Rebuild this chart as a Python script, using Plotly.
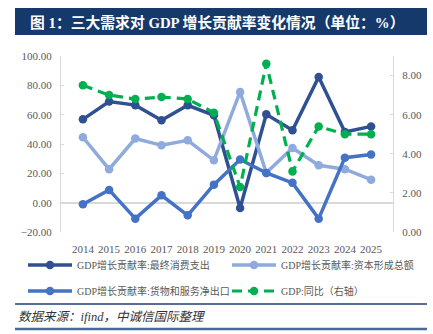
import plotly.graph_objects as go

years = ["2014", "2015", "2016", "2017", "2018", "2019", "2020", "2021", "2022", "2023", "2024", "2025"]
consumption = [56.8, 68.9, 66.5, 56.2, 66.4, 59.6, -3.6, 60.2, 49.4, 85.7, 48.2, 52.0]
capital = [44.6, 22.8, 43.7, 39.1, 42.5, 28.9, 75.5, 20.3, 37.3, 25.5, 22.8, 15.7]
net_exports = [-1.1, 8.7, -10.9, 5.0, -8.6, 12.3, 29.4, 20.3, 13.5, -10.9, 30.7, 32.8]
gdp_yoy = [7.5, 7.0, 6.8, 6.9, 6.8, 6.1, 2.3, 8.6, 3.1, 5.4, 5.0, 5.0]

names = [
    "GDP增长贡献率:最终消费支出",
    "GDP增长贡献率:资本形成总额",
    "GDP增长贡献率:货物和服务净出口",
    "GDP:同比（右轴）",
]

SERIF = "Liberation Serif, Noto Sans CJK SC, serif"
GRAY = "#595959"

W, H = 433, 334
ML, MR, MT, MB = 61, 40, 56, 102
PW, PH = W - ML - MR, H - MT - MB


def xp(px):
    return (px - ML) / PW


def yp(py):
    return (H - MB - py) / PH


fig = go.Figure()

line_w = 3.5
msize = 8.5
fig.add_trace(go.Scatter(x=years, y=consumption, name=names[0], mode="lines+markers",
                         line=dict(color="#2F5091", width=line_w), showlegend=True,
                         marker=dict(size=msize, color="#2F5091"), legend="legend"))
fig.add_trace(go.Scatter(x=years, y=capital, name=names[1], mode="lines+markers",
                         line=dict(color="#8FAADC", width=line_w), showlegend=True,
                         marker=dict(size=msize, color="#8FAADC"), legend="legend2"))
fig.add_trace(go.Scatter(x=years, y=net_exports, name=names[2], mode="lines+markers",
                         line=dict(color="#4472C4", width=line_w), showlegend=True,
                         marker=dict(size=msize, color="#4472C4"), legend="legend3"))
fig.add_trace(go.Scatter(x=years, y=gdp_yoy, name=names[3], mode="lines+markers", yaxis="y2",
                         line=dict(color="#00B050", width=3.2, dash="10px,6px"), showlegend=True,
                         marker=dict(size=msize, color="#00B050"), legend="legend4"))

shapes = [
    # title banner
    dict(type="rect", xref="paper", yref="paper", x0=xp(15), x1=xp(427), y0=yp(35), y1=yp(8),
         fillcolor="#15396A", line=dict(width=0), layer="below"),
    # rules above and below the source line
    dict(type="line", xref="paper", yref="paper", x0=xp(15), x1=xp(427), y0=yp(304), y1=yp(304),
         line=dict(color="#1F3F6E", width=1.5)),
    dict(type="line", xref="paper", yref="paper", x0=xp(15), x1=xp(427), y0=yp(329), y1=yp(329),
         line=dict(color="#4A6A96", width=2.5)),
]

annotations = [
    dict(text="<b>图 1：三大需求对 GDP 增长贡献率变化情况（单位：%）</b>", xref="paper", yref="paper",
         x=xp(217), y=yp(22), xanchor="center", yanchor="middle", showarrow=False,
         font=dict(family=SERIF, size=14.8, color="white")),
    dict(text="<i>数据来源：ifind，中诚信国际整理</i>", xref="paper", yref="paper",
         x=xp(16), y=yp(317), xanchor="left", yanchor="middle", showarrow=False,
         font=dict(family=SERIF, size=12.5, color="#333333")),
]

axis_common = dict(showgrid=False, ticks="inside", ticklen=3, tickcolor="#D9D9D9",
                   showline=True, linecolor="#D9D9D9", linewidth=1,
                   tickfont=dict(family=SERIF, size=11, color=GRAY), tickformat=".2f")


def legend_at(px, py):
    return dict(orientation="h", x=xp(px), y=yp(py), xanchor="left", yanchor="middle",
                font=dict(family=SERIF, size=10, color=GRAY), itemwidth=44,
                bgcolor="rgba(0,0,0,0)", visible=True)


fig.update_layout(
    width=W, height=H,
    showlegend=True,
    margin=dict(l=ML, r=MR, t=MT, b=MB),
    paper_bgcolor="white", plot_bgcolor="white",
    font=dict(family=SERIF, color=GRAY),
    xaxis=dict(showgrid=False, showline=False, zeroline=False, ticks="",
               tickfont=dict(family=SERIF, size=11, color=GRAY), ticklabelstandoff=9),
    yaxis=dict(range=[-20, 100], dtick=20, zeroline=True, zerolinecolor="#D9D9D9",
               zerolinewidth=1.5, ticklabelstandoff=6, **axis_common),
    yaxis2=dict(range=[0, 9], tickvals=[0, 2, 4, 6, 8], overlaying="y", side="right",
                zeroline=False, ticklabelstandoff=6, **axis_common),
    legend=legend_at(23, 265),
    legend2=legend_at(227, 265),
    legend3=legend_at(23, 291),
    legend4=legend_at(227, 291),
    shapes=shapes,
    annotations=annotations,
)

fig.write_html("out.html")
